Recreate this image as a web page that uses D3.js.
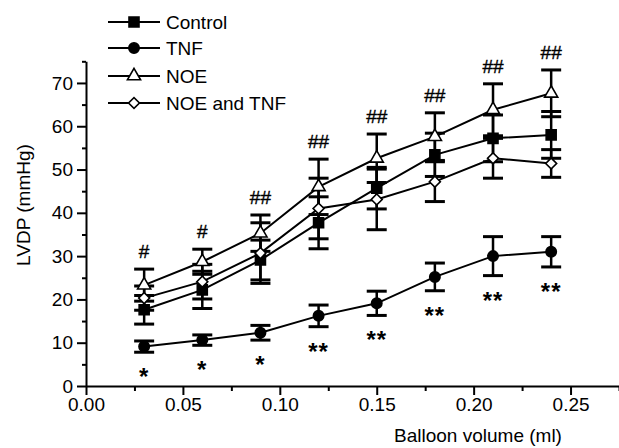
<!DOCTYPE html>
<html>
<head>
<meta charset="utf-8">
<script src="https://cdn.jsdelivr.net/npm/d3@7"></script>
<style>
  body { margin: 0; background: #fff; }
  svg { display: block; font-family: "Liberation Sans", Arial, sans-serif; }
</style>
</head>
<body>
<div id="chart"></div>
<script>
// balloon volumes (ml)
const volumes = [0.03, 0.06, 0.09, 0.12, 0.15, 0.18, 0.21, 0.24];

// LVDP (mmHg), mean and error per group
const controlMean = [17.6, 22.2, 29.1, 37.7, 45.7, 53.4, 57.2, 58.0];
const controlErr  = [3.3, 4.3, 4.6, 6.0, 4.8, 5.0, 5.4, 5.4];
const tnfMean     = [9.1, 10.6, 12.3, 16.2, 19.1, 25.2, 30.0, 31.0];
const tnfErr      = [1.3, 1.2, 1.7, 2.5, 2.8, 3.2, 4.5, 3.5];
const noeMean     = [23.3, 28.7, 35.3, 46.0, 52.6, 57.6, 63.8, 67.6];
const noeErr      = [3.7, 2.9, 4.2, 6.4, 5.6, 5.5, 6.0, 5.4];
const noeTnfMean  = [20.3, 24.1, 30.7, 41.0, 43.1, 47.2, 52.6, 51.4];
const noeTnfErr   = [2.8, 4.0, 7.0, 7.0, 7.0, 4.6, 4.6, 3.2];

const hashMarks = ["#", "#", "##", "##", "##", "##", "##", "##"];
const starMarks = ["*", "*", "*", "**", "**", "**", "**", "**"];

const xTicks = [0, 0.05, 0.10, 0.15, 0.20, 0.25];
const xMinorTicks = [0.025, 0.075, 0.125, 0.175, 0.225, 0.275];
const yTicks = [0, 10, 20, 30, 40, 50, 60, 70];
const yMinorTicks = [5, 15, 25, 35, 45, 55, 65, 75];

const width = 619;
const height = 448;

const series = [
    { name: "Control", mean: controlMean, err: controlErr, shape: "square", fill: "#000" },
    { name: "TNF", mean: tnfMean, err: tnfErr, shape: "circle", fill: "#000" },
    { name: "NOE", mean: noeMean, err: noeErr, shape: "triangle", fill: "#fff" },
    { name: "NOE and TNF", mean: noeTnfMean, err: noeTnfErr, shape: "diamond", fill: "#fff" }
];

const svg = d3.select("#chart").append("svg")
    .attr("width", width)
    .attr("height", height);

const x = d3.scaleLinear().domain([0, 0.275]).range([86, 619]);
const y = d3.scaleLinear().domain([0, 75]).range([386, 61.3]);

function symbolPath(shape) {
    if (shape === "square") return d3.symbol().type(d3.symbolSquare).size(100)();
    if (shape === "circle") return d3.symbol().type(d3.symbolCircle).size(85)();
    if (shape === "triangle") return d3.symbol().type(d3.symbolTriangle).size(75)();
    return d3.symbol().type(d3.symbolSquare).size(60)();
}
function symbolRotate(shape) {
    return shape === "diamond" ? " rotate(45)" : "";
}

// axes
svg.append("g")
    .attr("transform", `translate(0,${y(0)})`)
    .call(d3.axisBottom(x).tickValues(xTicks).tickFormat(d3.format(".2f"))
        .tickSizeInner(9).tickSizeOuter(0).tickPadding(3));
svg.append("g")
    .attr("transform", `translate(0,${y(0)})`)
    .call(d3.axisBottom(x).tickValues(xMinorTicks).tickFormat("").tickSizeInner(5).tickSizeOuter(0))
    .select(".domain").remove();

svg.append("g")
    .attr("transform", `translate(${x(0)},0)`)
    .call(d3.axisLeft(y).tickValues(yTicks).tickSizeInner(9).tickSizeOuter(0).tickPadding(4));
svg.append("g")
    .attr("transform", `translate(${x(0)},0)`)
    .call(d3.axisLeft(y).tickValues(yMinorTicks).tickFormat("").tickSizeInner(4).tickSizeOuter(0))
    .select(".domain").remove();

svg.selectAll(".domain").attr("stroke", "#000").attr("stroke-width", 2);
svg.selectAll(".tick line").attr("stroke", "#000").attr("stroke-width", 2);
svg.selectAll(".tick text")
    .attr("fill", "#000")
    .style("font-size", "19px")
    .style("font-family", "'Liberation Sans', Arial, sans-serif");

svg.append("text")
    .attr("x", 478)
    .attr("y", 442)
    .attr("text-anchor", "middle")
    .style("font-size", "19px")
    .text("Balloon volume (ml)");

svg.append("text")
    .attr("transform", `translate(30,205) rotate(-90)`)
    .attr("text-anchor", "middle")
    .style("font-size", "19px")
    .text("LVDP (mmHg)");

// error bars
const capHalf = 10;
series.forEach(s => {
    const g = svg.append("g").attr("class", "errbars");
    const pts = volumes.map((v, i) => ({ v, m: s.mean[i], e: s.err[i] }));
    g.selectAll(".stem").data(pts).enter().append("line")
        .attr("x1", d => x(d.v)).attr("x2", d => x(d.v))
        .attr("y1", d => y(d.m - d.e)).attr("y2", d => y(d.m + d.e))
        .attr("stroke", "#000").attr("stroke-width", 2.5);
    [-1, 1].forEach(sign => {
        g.selectAll(".cap" + sign).data(pts).enter().append("line")
            .attr("x1", d => x(d.v) - capHalf).attr("x2", d => x(d.v) + capHalf)
            .attr("y1", d => y(d.m + sign * d.e)).attr("y2", d => y(d.m + sign * d.e))
            .attr("stroke", "#000").attr("stroke-width", 3);
    });
});

// lines
const line = d3.line()
    .x(d => x(d[0]))
    .y(d => y(d[1]));

series.forEach(s => {
    svg.append("path")
        .datum(volumes.map((v, i) => [v, s.mean[i]]))
        .attr("d", line)
        .attr("fill", "none")
        .attr("stroke", "#000")
        .attr("stroke-width", 2);
});

// markers
series.forEach(s => {
    svg.append("g").selectAll("path")
        .data(volumes.map((v, i) => [v, s.mean[i]]))
        .enter().append("path")
        .attr("d", symbolPath(s.shape))
        .attr("transform", d => `translate(${x(d[0])},${y(d[1])})${symbolRotate(s.shape)}`)
        .attr("fill", s.fill)
        .attr("stroke", "#000")
        .attr("stroke-width", 1.6);
});

// significance marks
svg.append("g").selectAll("text")
    .data(volumes.map((v, i) => ({ v, top: noeMean[i] + noeErr[i], label: hashMarks[i] })))
    .enter().append("text")
    .attr("x", d => x(d.v))
    .attr("y", d => y(d.top) - 11)
    .attr("text-anchor", "middle")
    .style("font-size", "19px")
    .style("stroke", "#000")
    .style("stroke-width", 0.4)
    .text(d => d.label);

svg.append("g").selectAll("text")
    .data(volumes.map((v, i) => ({ v, low: tnfMean[i] - tnfErr[i], label: starMarks[i] })))
    .enter().append("text")
    .attr("x", d => x(d.v))
    .attr("y", d => y(d.low) + 33)
    .attr("text-anchor", "middle")
    .style("font-size", "24px")
    .style("font-weight", "bold")
    .style("letter-spacing", "1px")
    .text(d => d.label);

// legend
const legendRows = [22, 48, 76, 103];
const legend = svg.append("g");
series.forEach((s, i) => {
    const row = legend.append("g").attr("transform", `translate(0,${legendRows[i]})`);
    row.append("line")
        .attr("x1", 108).attr("x2", 160)
        .attr("stroke", "#000").attr("stroke-width", 2);
    row.append("path")
        .attr("d", symbolPath(s.shape))
        .attr("transform", `translate(134,0)${symbolRotate(s.shape)}`)
        .attr("fill", s.fill)
        .attr("stroke", "#000")
        .attr("stroke-width", 1.6);
    row.append("text")
        .attr("x", 166)
        .attr("dy", "0.35em")
        .style("font-size", "19px")
        .text(s.name);
});
</script>
</body>
</html>
